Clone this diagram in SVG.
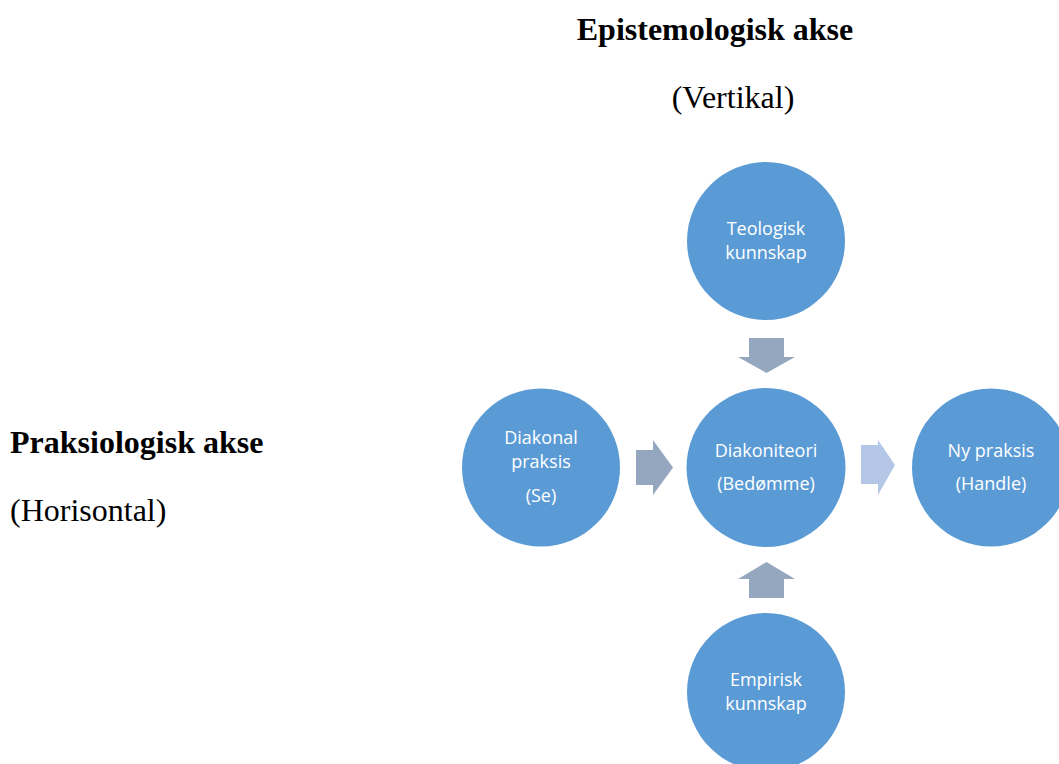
<svg xmlns="http://www.w3.org/2000/svg" width="1059" height="764" viewBox="0 0 1059 764">
<style>
.c{fill:#5b9bd5;}
.t{font-family:"Open Sans","Liberation Sans",sans-serif;font-size:18px;fill:#fff;text-anchor:middle;}
.h{font-family:"Liberation Serif",serif;font-size:32px;fill:#000;}
.a{fill:#94a7bf;}
.al{fill:#b4c7e7;}
</style>
<rect width="1059" height="764" fill="#fff"/>
<text class="h" x="715" y="40" font-weight="bold" text-anchor="middle">Epistemologisk akse</text>
<text class="h" x="733" y="108" text-anchor="middle">(Vertikal)</text>
<text class="h" x="10" y="453" font-weight="bold">Praksiologisk akse</text>
<text class="h" x="10" y="521">(Horisontal)</text>
<g id="connectors">
<polygon class="a" points="749,338 784,338 784,357 795,357 766.5,373 738,357 749,357"/>
<polygon class="a" points="749,598 784,598 784,579 795,579 766.5,562 738,579 749,579"/>
<polygon class="a" points="636,450 653,450 653,440 673,467.5 653,495 653,485 636,485"/>
<polygon class="al" points="861,445 878,445 878,440 895,465 878,495 878,484 861,484"/>
</g>
<g id="teologisk"><circle class="c" cx="766" cy="241" r="79"/><text class="t" x="766" y="235">Teologisk</text><text class="t" x="766" y="259">kunnskap</text></g>
<g id="diakoniteori"><circle class="c" cx="766" cy="467.5" r="79.5"/><text class="t" x="766" y="457">Diakoniteori</text><text class="t" x="766" y="490">(Bedømme)</text></g>
<g id="diakonal"><circle class="c" cx="541" cy="467.5" r="79"/><text class="t" x="541" y="444">Diakonal</text><text class="t" x="541" y="468">praksis</text><text class="t" x="541" y="502">(Se)</text></g>
<g id="nypraksis"><circle class="c" cx="991" cy="467.5" r="79"/><text class="t" x="991" y="457">Ny praksis</text><text class="t" x="991" y="490">(Handle)</text></g>
<g id="empirisk"><circle class="c" cx="766" cy="692" r="79"/><text class="t" x="766" y="686">Empirisk</text><text class="t" x="766" y="710">kunnskap</text></g>
</svg>
